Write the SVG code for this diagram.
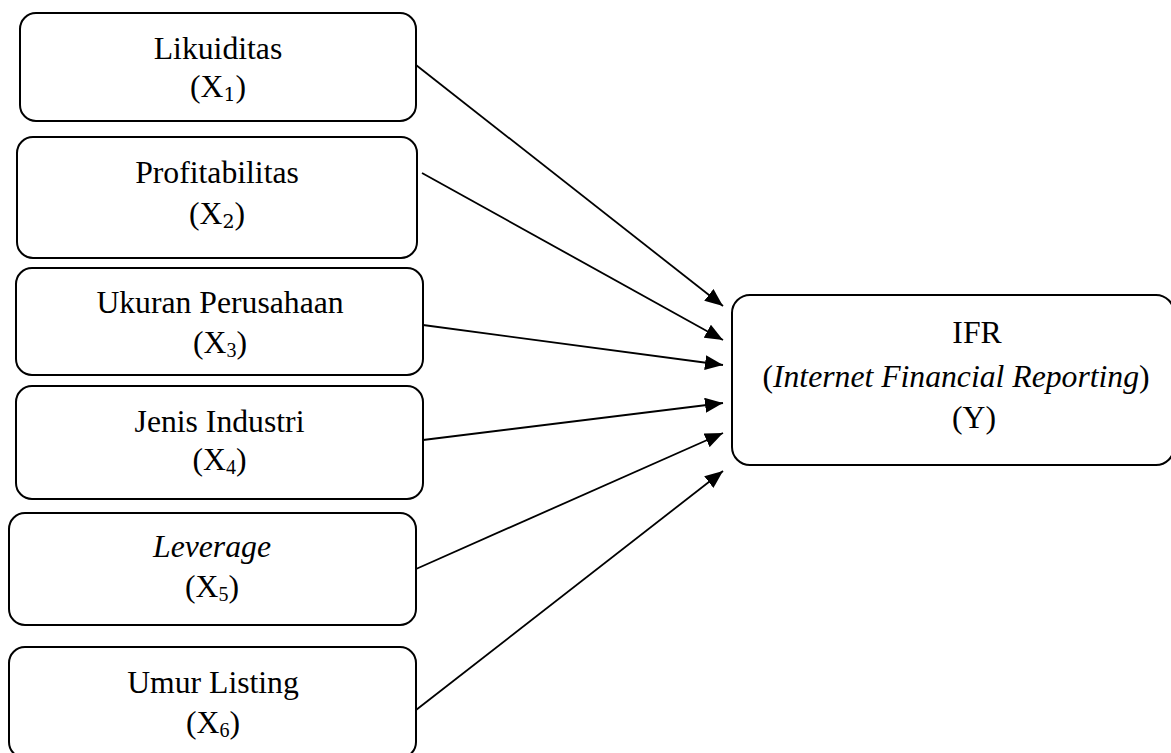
<svg xmlns="http://www.w3.org/2000/svg" width="1171" height="753" viewBox="0 0 1171 753">
<style>
.box{fill:#fff;stroke:#000;stroke-width:2}
.t{font-family:"Liberation Serif","Times New Roman",serif;font-size:31.7px;fill:#000;text-anchor:middle}
.i{font-style:italic}
.sub{font-size:20px}
.subm{font-family:"DejaVu Serif",serif;font-size:19px}
.conn line{stroke:#000;stroke-width:1.8}
</style>
<defs>
<marker id="ah" viewBox="0 0 18 15" refX="18" refY="7.5" markerWidth="18" markerHeight="15" markerUnits="userSpaceOnUse" orient="auto">
<path d="M0,0 L18,7.5 L0,15 Z" fill="#000"/>
</marker>
</defs>
<g id="n1"><rect class="box" x="20" y="13" width="396" height="108" rx="16"/>
<text class="t" x="218" y="59">Likuiditas</text>
<text class="t" x="218" y="97">(X<tspan class="subm" dy="4">1</tspan><tspan dy="-4">)</tspan></text></g>
<g id="n2"><rect class="box" x="17" y="137" width="400" height="121" rx="16"/>
<text class="t" x="217" y="183">Profitabilitas</text>
<text class="t" x="217" y="224">(X<tspan class="subm" dy="4">2</tspan><tspan dy="-4">)</tspan></text></g>
<g id="n3"><rect class="box" x="16" y="268" width="407" height="107" rx="16"/>
<text class="t" x="220" y="313">Ukuran Perusahaan</text>
<text class="t" x="220" y="353">(X<tspan class="sub" dy="4">3</tspan><tspan dy="-4">)</tspan></text></g>
<g id="n4"><rect class="box" x="16" y="386" width="407" height="113" rx="16"/>
<text class="t" x="219.5" y="432">Jenis Industri</text>
<text class="t" x="219.5" y="470">(X<tspan class="sub" dy="4">4</tspan><tspan dy="-4">)</tspan></text></g>
<g id="n5"><rect class="box" x="9" y="513" width="407" height="112" rx="16"/>
<text class="t i" x="212" y="557">Leverage</text>
<text class="t" x="212" y="597">(X<tspan class="sub" dy="4">5</tspan><tspan dy="-4">)</tspan></text></g>
<g id="n6"><rect class="box" x="9" y="647" width="407" height="111" rx="16"/>
<text class="t" x="213" y="693">Umur Listing</text>
<text class="t" x="213" y="733">(X<tspan class="sub" dy="4">6</tspan><tspan dy="-4">)</tspan></text></g>
<g id="y"><rect class="box" x="732" y="295" width="442" height="170" rx="18"/>
<text class="t" x="977" y="343">IFR</text>
<text class="t" x="956" y="387">(<tspan class="i">Internet Financial Reporting</tspan>)</text>
<text class="t" x="974" y="428">(Y)</text></g>
<g class="conn">
<line x1="416" y1="65" x2="723" y2="306" marker-end="url(#ah)"/>
<line x1="422" y1="173" x2="723" y2="340" marker-end="url(#ah)"/>
<line x1="423" y1="325" x2="723" y2="365" marker-end="url(#ah)"/>
<line x1="423" y1="440" x2="723" y2="403" marker-end="url(#ah)"/>
<line x1="416" y1="569" x2="723" y2="433" marker-end="url(#ah)"/>
<line x1="416" y1="710" x2="723" y2="471" marker-end="url(#ah)"/>
</g>
</svg>
